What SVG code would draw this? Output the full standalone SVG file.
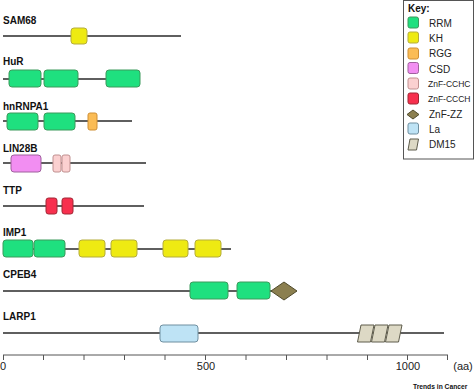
<svg xmlns="http://www.w3.org/2000/svg" width="474" height="392" viewBox="0 0 474 392">
<style>
.lbl{font-family:"Liberation Sans",Arial,sans-serif;font-weight:bold;font-size:10px;fill:#111}
.leg{font-family:"Liberation Sans",Arial,sans-serif;font-size:10px;fill:#222}
.legs{font-family:"Liberation Sans",Arial,sans-serif;font-size:8.5px;fill:#222}
.ax{font-family:"Liberation Sans",Arial,sans-serif;font-size:11px;fill:#222}
.bb{stroke:#2a2a2a;stroke-width:1.3;fill:none}
.tick{stroke:#555;stroke-width:1}
.rrm{fill:#1fe07f;stroke:#3d9a5c;stroke-width:1}
.kh{fill:#eeea12;stroke:#b5ad3a;stroke-width:1}
.rgg{fill:#fbbc55;stroke:#cf8f35;stroke-width:1}
.csd{fill:#f28ef2;stroke:#a0609e;stroke-width:1}
.cchc{fill:#fbd0d0;stroke:#c09090;stroke-width:1}
.ccch{fill:#f7304e;stroke:#a02634;stroke-width:1}
.zz{fill:#8b7f4f;stroke:#4f4a2c;stroke-width:1}
.la{fill:#bee3f5;stroke:#6f8fa0;stroke-width:1}
.dm{fill:#ddd9c5;stroke:#5e5c4c;stroke-width:1}
</style>

<g id="SAM68">
<text class="lbl" x="3" y="24">SAM68</text>
<line class="bb" x1="3" y1="36" x2="181" y2="36"/>
<rect class="kh" x="71" y="28" width="16" height="16" rx="3"/>
</g>

<g id="HuR">
<text class="lbl" x="3" y="65">HuR</text>
<line class="bb" x1="3" y1="79" x2="140" y2="79"/>
<rect class="rrm" x="9" y="70" width="32" height="17" rx="3"/>
<rect class="rrm" x="44" y="70" width="34" height="17" rx="3"/>
<rect class="rrm" x="106" y="70" width="34" height="17" rx="3"/>
</g>

<g id="hnRNPA1">
<text class="lbl" x="3" y="110">hnRNPA1</text>
<line class="bb" x1="3" y1="121" x2="132" y2="121"/>
<rect class="rrm" x="7" y="113" width="31" height="17" rx="3"/>
<rect class="rrm" x="44" y="113" width="31" height="17" rx="3"/>
<rect class="rgg" x="88" y="113" width="9" height="17" rx="2"/>
</g>

<g id="LIN28B">
<text class="lbl" x="3" y="152">LIN28B</text>
<line class="bb" x1="3" y1="163" x2="146" y2="163"/>
<rect class="csd" x="11" y="155" width="30" height="17" rx="3"/>
<rect class="cchc" x="53" y="155" width="8" height="17" rx="2"/>
<rect class="cchc" x="62" y="155" width="8" height="17" rx="2"/>
</g>

<g id="TTP">
<text class="lbl" x="3" y="194">TTP</text>
<line class="bb" x1="3" y1="206" x2="144" y2="206"/>
<rect class="ccch" x="46" y="198" width="11" height="16" rx="2.5"/>
<rect class="ccch" x="62" y="198" width="11" height="16" rx="2.5"/>
</g>

<g id="IMP1">
<text class="lbl" x="3" y="236">IMP1</text>
<line class="bb" x1="3" y1="249" x2="231" y2="249"/>
<rect class="rrm" x="3" y="240" width="30" height="17" rx="3"/>
<rect class="rrm" x="34" y="240" width="31" height="17" rx="3"/>
<rect class="kh" x="79" y="240" width="26" height="17" rx="3"/>
<rect class="kh" x="111" y="240" width="26" height="17" rx="3"/>
<rect class="kh" x="163" y="240" width="25" height="17" rx="3"/>
<rect class="kh" x="195" y="240" width="26" height="17" rx="3"/>
</g>

<g id="CPEB4">
<text class="lbl" x="3" y="278">CPEB4</text>
<line class="bb" x1="3" y1="291" x2="272" y2="291"/>
<rect class="rrm" x="190" y="282" width="38" height="17" rx="3"/>
<rect class="rrm" x="237" y="282" width="33" height="17" rx="3"/>
<polygon class="zz" points="271,291 284,282 297,291 284,300"/>
</g>

<g id="LARP1">
<text class="lbl" x="3" y="320">LARP1</text>
<line class="bb" x1="3" y1="333" x2="444" y2="333"/>
<rect class="la" x="160" y="325" width="38" height="17" rx="3"/>
<polygon class="dm" points="361,325 374,325 370.5,342 357.5,342"/>
<polygon class="dm" points="375,325 388,325 384.5,342 371.5,342"/>
<polygon class="dm" points="389,325 402,325 398.5,342 385.5,342"/>
</g>

<g id="axis">
<line class="tick" x1="3" y1="355" x2="448" y2="355"/>
<line class="tick" x1="3.5" y1="355" x2="3.5" y2="360"/>
<line class="tick" x1="43.5" y1="355" x2="43.5" y2="360"/>
<line class="tick" x1="84" y1="355" x2="84" y2="360"/>
<line class="tick" x1="124.5" y1="355" x2="124.5" y2="360"/>
<line class="tick" x1="165" y1="355" x2="165" y2="360"/>
<line class="tick" x1="205.5" y1="355" x2="205.5" y2="360"/>
<line class="tick" x1="246" y1="355" x2="246" y2="360"/>
<line class="tick" x1="286.5" y1="355" x2="286.5" y2="360"/>
<line class="tick" x1="327" y1="355" x2="327" y2="360"/>
<line class="tick" x1="367.5" y1="355" x2="367.5" y2="360"/>
<line class="tick" x1="407.5" y1="355" x2="407.5" y2="360"/>
<line class="tick" x1="447.5" y1="355" x2="447.5" y2="360"/>
<text class="ax" x="3" y="370" text-anchor="middle">0</text>
<text class="ax" x="206" y="370" text-anchor="middle">500</text>
<text class="ax" x="408" y="370" text-anchor="middle">1000</text>
<text class="ax" x="463" y="370" text-anchor="middle">(aa)</text>
</g>

<g id="legend">
<rect x="403.5" y="0.5" width="70" height="158.5" fill="#fff" stroke="#555" stroke-width="1"/>
<text class="lbl" x="408" y="12">Key:</text>
<rect class="rrm" x="408" y="17" width="10.5" height="11" rx="2"/>
<text class="leg" x="429" y="26.5">RRM</text>
<rect class="kh" x="408" y="32" width="10.5" height="11" rx="2"/>
<text class="leg" x="429" y="41.5">KH</text>
<rect class="rgg" x="408" y="48" width="10.5" height="11" rx="2"/>
<text class="leg" x="429" y="57">RGG</text>
<rect class="csd" x="408" y="62.5" width="10.5" height="11" rx="2"/>
<text class="leg" x="429" y="72.5">CSD</text>
<rect class="cchc" x="408" y="78" width="10.5" height="11" rx="2"/>
<text class="legs" x="428" y="87">ZnF-CCHC</text>
<rect class="ccch" x="408" y="93" width="10.5" height="11" rx="2"/>
<text class="legs" x="428" y="102">ZnF-CCCH</text>
<polygon class="zz" points="407,114.5 413,110 419,114.5 413,119"/>
<text class="leg" x="429" y="118">ZnF-ZZ</text>
<rect class="la" x="408" y="123" width="10.5" height="11" rx="2"/>
<text class="leg" x="429" y="132.5">La</text>
<polygon class="dm" points="410,139 418.5,139 416.5,150 408,150"/>
<text class="leg" x="429" y="148">DM15</text>
</g>

<text x="413" y="389" font-family="'Liberation Sans',Arial,sans-serif" font-weight="bold" font-size="6.7" fill="#111">Trends in Cancer</text>
</svg>
